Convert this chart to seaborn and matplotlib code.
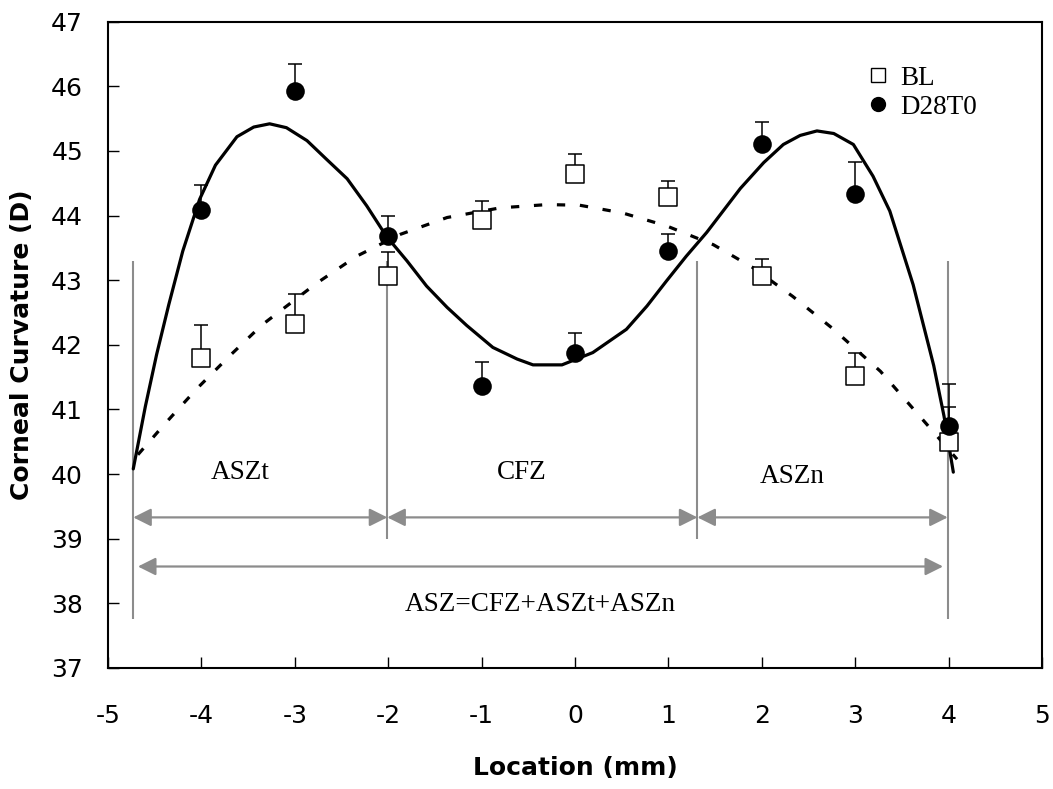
import matplotlib
matplotlib.use("Agg")
import matplotlib.pyplot as plt
from matplotlib.lines import Line2D
import numpy as np
import seaborn as sns

# measured points (mean with upper SD bar)
location = [-4, -3, -2, -1, 0, 1, 2, 3, 4]
bl_mean = [41.80, 42.33, 43.07, 43.93, 44.65, 44.28, 43.06, 41.52, 40.50]
bl_err = [0.50, 0.45, 0.36, 0.30, 0.30, 0.25, 0.27, 0.35, 0.54]
d28_mean = [44.08, 45.92, 43.68, 41.37, 41.88, 43.45, 45.10, 44.33, 40.75]
d28_err = [0.40, 0.43, 0.32, 0.37, 0.30, 0.27, 0.35, 0.50, 0.65]

# trend curves
d28_fit_x = [-4.73, -4.60, -4.48, -4.35, -4.20, -4.02, -3.85, -3.62, -3.44, -3.27,
             -3.09, -2.87, -2.66, -2.44, -2.23, -2.02, -1.80, -1.59, -1.37, -1.16,
             -0.88, -0.62, -0.45, -0.14, 0.19, 0.55, 0.77, 0.98, 1.19, 1.41,
             1.77, 2.02, 2.23, 2.41, 2.59, 2.77, 2.98, 3.19, 3.37, 3.62,
             3.84, 3.95, 4.05]
d28_fit_y = [40.08, 41.05, 41.85, 42.62, 43.45, 44.25, 44.78, 45.22, 45.37, 45.42,
             45.36, 45.16, 44.87, 44.57, 44.15, 43.68, 43.30, 42.91, 42.58, 42.30,
             41.96, 41.78, 41.69, 41.69, 41.88, 42.24, 42.60, 42.99, 43.37, 43.74,
             44.42, 44.82, 45.10, 45.24, 45.31, 45.27, 45.10, 44.61, 44.07, 42.93,
             41.68, 40.90, 40.03]
bl_fit_x = [-4.68, -4.39, -4.05, -3.69, -3.35, -2.77, -2.34, -1.87, -1.37, -0.80,
            -0.30, 0.05, 0.51, 0.98, 1.48, 1.91, 2.33, 2.76, 3.27, 3.76, 4.09]
bl_fit_y = [40.30, 40.78, 41.32, 41.84, 42.31, 42.95, 43.37, 43.71, 43.97, 44.12,
            44.17, 44.16, 44.04, 43.84, 43.55, 43.19, 42.75, 42.25, 41.59, 40.78,
            40.23]

# zone boundaries (mm) and names
zone_edges = [-4.73, -2.01, 1.31, 3.99]
zone_names = ["ASZt", "CFZ", "ASZn"]
total_label = "ASZ=CFZ+ASZt+ASZn"

sns.set_theme(style="white")
plt.rcParams["font.family"] = ["DejaVu Sans"]
plt.rcParams["axes.unicode_minus"] = False
plt.rcParams["text.color"] = "black"
plt.rcParams["axes.labelcolor"] = "black"
serif = ["Liberation Serif", "DejaVu Serif"]
gray = "#8c8c8c"

fig, ax = plt.subplots(figsize=(10.53, 7.89), dpi=100)
fig.subplots_adjust(left=0.1026, right=0.9896, bottom=0.1534, top=0.9725)

# trend lines
sns.lineplot(x=d28_fit_x, y=d28_fit_y, color="black", lw=2.3, sort=False,
             estimator=None, ax=ax, zorder=2)
sns.lineplot(x=bl_fit_x, y=bl_fit_y, color="black", lw=2.3, sort=False,
             estimator=None, ax=ax, linestyle=(0, (2.6, 4.6)), zorder=2)

# zone markers
ax.vlines(zone_edges, ymin=[37.75, 39.0, 39.0, 37.75], ymax=43.3, color=gray, lw=1.5, zorder=1)
arrow_kw = dict(arrowstyle="<|-|>", color=gray, lw=1.6, mutation_scale=27,
                shrinkA=0, shrinkB=0)
for x0, x1 in zip(zone_edges[:-1], zone_edges[1:]):
    ax.annotate("", xy=(x1, 39.33), xytext=(x0, 39.33), arrowprops=arrow_kw)
ax.annotate("", xy=(3.94, 38.57), xytext=(-4.68, 38.57), arrowprops=arrow_kw)

for name, xc, yc in zip(zone_names, [-3.59, -0.57, 2.33], [40.03, 40.03, 39.97]):
    ax.text(xc, yc, name, ha="center", va="center", fontsize=19.5, family=serif,
            color="black")
ax.text(-0.37, 37.98, total_label, ha="center", va="center", fontsize=19.5,
        family=serif, color="black")

# error bars (upper only)
ax.errorbar(location, bl_mean, yerr=[np.zeros(len(bl_err)), bl_err], fmt="none",
            ecolor="black", elinewidth=1.1, capsize=4.7, capthick=1.1, zorder=3)
ax.errorbar(location, d28_mean, yerr=[np.zeros(len(d28_err)), d28_err], fmt="none",
            ecolor="black", elinewidth=1.1, capsize=4.7, capthick=1.1, zorder=3)

# points
sns.scatterplot(x=location, y=bl_mean, marker="s", s=170, color="white",
                edgecolor="black", linewidth=1.1, ax=ax, zorder=4)
sns.scatterplot(x=location, y=d28_mean, marker="o", s=180, color="black",
                edgecolor="black", linewidth=0, ax=ax, zorder=5)

handles = [
    Line2D([], [], ls="none", marker="s", ms=9.5, mfc="white", mec="black", mew=1),
    Line2D([], [], ls="none", marker="o", ms=10, mfc="black", mec="black"),
]
leg = ax.legend(handles, ["BL", "D28T0"], loc="upper left", bbox_to_anchor=(0.813, 0.932),
                frameon=False, handlelength=0.8, handletextpad=0.4, labelspacing=0.15,
                borderpad=0, borderaxespad=0, prop={"family": serif, "size": 19.5})
for t in leg.get_texts():
    t.set_color("black")

ax.set_xlim(-5, 5)
ax.set_ylim(37, 47)
ax.set_xticks(range(-5, 6))
ax.set_yticks(range(37, 48))
ax.tick_params(axis="both", direction="in", length=8, width=1, colors="black",
               labelsize=18, bottom=True, left=True, top=False, right=False)
ax.tick_params(axis="y", pad=18)
ax.tick_params(axis="x", pad=26)
for sp in ax.spines.values():
    sp.set_visible(True)
    sp.set_color("black")
    sp.set_linewidth(1.5)

ax.set_xlabel("Location (mm)", fontsize=18, fontweight="bold", labelpad=20)
ax.set_ylabel("Corneal Curvature (D)", fontsize=18, fontweight="bold", labelpad=12)

fig.savefig("out.png", dpi=100)
